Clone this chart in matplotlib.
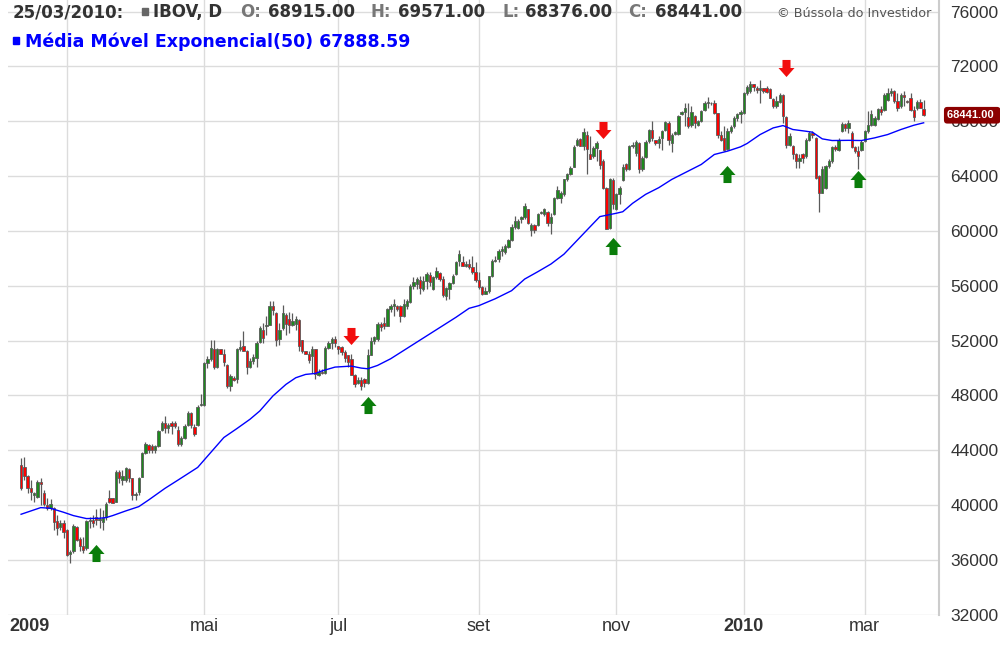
"""IBOV daily candles with 50-period EMA and buy/sell arrows"""

import numpy as np
import matplotlib.pyplot as plt
from matplotlib.path import Path
from matplotlib.patches import Rectangle
from matplotlib.transforms import blended_transform_factory

# daily candles, 13/02/2009 .. 25/03/2010 (one entry per trading day)
opens = [42910, 42789, 42134, 41261, 40700, 40608, 41700, 40900, 40000, 39800,
         39759, 38800, 38400, 38700, 38183, 36400, 36607, 38425, 37500, 37000,
         36849, 38800, 38900, 39152, 38900, 38789, 39100, 40486, 40486, 40243,
         42400, 41819, 41819, 42600, 41940, 40700, 40970, 42061, 43758, 44400,
         44315, 44000, 44300, 45480, 46013, 45600, 46013, 46013, 45500, 44437,
         44922, 45800, 46700, 45700, 45820, 47300, 47274, 50376, 50618, 51400,
         50085, 51346, 51000, 50200, 48679, 49300, 49200, 51400, 51600, 51225,
         50100, 50497, 50740, 51900, 52800, 53042, 53164, 54500, 54012, 52100,
         52900, 53900, 53576, 53164, 53230, 53500, 52024, 51200, 51000, 50861,
         51346, 49500, 49700, 49648, 51467, 51800, 52100, 51600, 51516, 51153,
         50911, 50669, 49456, 48900, 49100, 49214, 48923, 50950, 52002, 52123,
         53200, 53287, 53093, 54304, 54500, 54500, 54498, 53800, 54498, 54789,
         56000, 56122, 56438, 55759, 56365, 56800, 55759, 56607, 56900, 56500,
         55225, 55759, 56200, 56849, 57800, 57746, 57455, 57600, 57400, 57000,
         56400, 55881, 55400, 55600, 56730, 57820, 57941, 58548, 58475, 58790,
         59348, 60300, 60245, 60900, 61000, 61578, 60075, 60400, 60400, 61300,
         61215, 61400, 60600, 61215, 62426, 62426, 62669, 63759, 64123, 64700,
         66305, 66717, 66232, 67000, 65577, 65456, 66063, 65900, 65093, 63154,
         60245, 63700, 61578, 62700, 63700, 64850, 64487, 66184, 65700, 66426,
         64487, 65400, 66547, 67400, 66600, 66400, 66789, 67347, 67900, 66426,
         67100, 67105, 68500, 68650, 68317, 67700, 68400, 67759, 68002, 68800,
         69300, 69350, 69335, 68600, 67032, 66789, 66000, 67300, 67638, 68244,
         68500, 68608, 70062, 70183, 70700, 70400, 70300, 70400, 70426, 70353,
         69600, 69100, 69384, 69941, 68300, 66300, 66232, 65578, 65093, 65578,
         65456, 66668, 67153, 66789, 64002, 62800, 63154, 64729, 65093, 66135,
         65893, 67275, 67832, 67500, 67153, 66135, 65800, 65900, 66547, 67275,
         67759, 67759, 68171, 68900, 68800, 69577, 70062, 70200, 69500, 69093,
         69941, 69500, 69698, 68850, 68971, 69384, 68915]
highs = [43443, 43516, 42183, 41819, 40970, 41819, 41940, 41100, 40485, 40400,
         39880, 39273, 38910, 38910, 38256, 36729, 38595, 38498, 37698, 37698,
         38910, 39152, 39273, 39710, 39759, 39637, 40243, 41092, 40534, 42546,
         42546, 42546, 42789, 42700, 41988, 40970, 42061, 43831, 44607, 44485,
         44485, 44364, 45500, 46134, 46498, 46013, 46134, 46134, 45771, 45043,
         45892, 46861, 46788, 45892, 47274, 48073, 50424, 50861, 52073, 52073,
         51467, 51394, 51346, 50255, 49527, 49406, 51467, 52073, 52679, 51298,
         50740, 50982, 51952, 53042, 53285, 53770, 54860, 54860, 54060, 53300,
         54618, 54012, 54060, 54012, 53770, 53576, 52073, 51225, 51225, 51588,
         51394, 49891, 49891, 51588, 51952, 52244, 52365, 51637, 51637, 51274,
         50959, 51032, 49577, 49335, 49335, 49263, 51396, 52244, 52365, 53335,
         53335, 53698, 54353, 54668, 55031, 54595, 54595, 55031, 55031, 56122,
         56607, 56607, 56728, 56728, 56971, 56971, 56728, 57334, 56971, 56680,
         55880, 56243, 56849, 57819, 58619, 58183, 57819, 57940, 58183, 57698,
         56971, 56003, 55881, 56730, 57941, 58184, 58669, 58911, 59032, 59445,
         60487, 61093, 60851, 61093, 62063, 61627, 60609, 60487, 61336, 61457,
         61699, 61457, 61336, 62499, 63275, 62911, 63808, 64244, 64729, 66305,
         66789, 66789, 67517, 67274, 66911, 66184, 66547, 65941, 65214, 63226,
         63880, 63880, 62790, 63275, 64850, 64971, 66305, 66474, 66668, 66474,
         65456, 66668, 67444, 68002, 66668, 66911, 67396, 68002, 68000, 67153,
         67275, 68486, 68729, 69335, 69335, 69093, 68486, 68123, 68850, 69456,
         69771, 69400, 69577, 68608, 67275, 67638, 67517, 67759, 68365, 68608,
         68850, 70110, 70668, 70910, 70741, 70547, 71032, 70426, 70547, 70426,
         69698, 69819, 70062, 69989, 68365, 67153, 66305, 65699, 65578, 65650,
         66789, 67275, 67275, 66862, 64050, 64729, 64777, 65214, 66232, 66305,
         66789, 67929, 67880, 68123, 67275, 66232, 66184, 66668, 67396, 68729,
         68850, 68365, 68971, 69093, 70062, 70426, 70426, 70305, 70062, 70062,
         70183, 69577, 70062, 69093, 69577, 69626, 69571]
lows = [41092, 41819, 40850, 40365, 40244, 40535, 40001, 39900, 39637, 39600,
        38183, 37820, 38183, 37577, 36244, 35759, 36486, 37335, 36607, 36486,
        36728, 38304, 38425, 38547, 38304, 38183, 38910, 40123, 40123, 40243,
        41577, 41455, 41698, 41698, 40365, 40365, 40728, 42061, 43685, 43758,
        43758, 43758, 44200, 45407, 45286, 45286, 45165, 45650, 44316, 44316,
        44800, 45771, 45650, 45043, 45771, 47225, 47225, 50012, 50497, 49891,
        50012, 50982, 50134, 48558, 48315, 49043, 48921, 51225, 51225, 49528,
        50012, 50255, 50085, 51830, 51830, 52436, 53163, 53891, 51588, 51709,
        52800, 52436, 52558, 53042, 52800, 51225, 51104, 50982, 50376, 49648,
        49164, 49406, 49528, 49528, 51346, 51396, 51517, 51032, 50910, 50426,
        50062, 49456, 48608, 48850, 48365, 48608, 48850, 50911, 51759, 51999,
        52728, 52850, 53044, 54062, 53819, 54183, 53335, 53698, 54304, 54740,
        55759, 55759, 55395, 55638, 55759, 56001, 55710, 56486, 56365, 55152,
        54983, 55031, 56122, 56777, 57455, 57407, 57334, 57213, 56849, 56243,
        55759, 55324, 55396, 55500, 56609, 57699, 57699, 58184, 58306, 58718,
        59275, 60124, 60124, 60609, 60851, 60488, 59639, 59881, 60366, 61215,
        61093, 60366, 59760, 61142, 62305, 62063, 62548, 63638, 64050, 64650,
        66184, 66184, 65941, 64123, 65214, 65335, 65093, 64487, 63032, 60124,
        60172, 61578, 61530, 61941, 63638, 64366, 64438, 66063, 65456, 64244,
        64365, 65335, 66426, 66547, 66305, 66063, 65941, 67275, 66305, 65747,
        67032, 67032, 68486, 67638, 67517, 67600, 67517, 67638, 67929, 68729,
        68971, 69200, 68559, 66789, 66547, 65820, 65900, 67153, 67517, 67999,
        67880, 68559, 69941, 70062, 70183, 70062, 69335, 70062, 70062, 69698,
        68971, 68971, 69335, 67880, 66063, 66184, 65214, 64608, 64608, 64971,
        65335, 66547, 66789, 63808, 61384, 62790, 63081, 64608, 64971, 65820,
        65820, 67202, 67275, 67153, 66063, 65699, 64487, 65820, 66474, 67153,
        67638, 67638, 68123, 68486, 68729, 69456, 69819, 69335, 68729, 68971,
        69093, 69335, 68729, 68002, 68850, 68971, 68376]
closes = [41213, 42134, 41213, 40923, 40850, 41698, 41500, 40050, 39800, 40100,
          38789, 38300, 38700, 38000, 36316, 36600, 38498, 37456, 37000, 36700,
          38837, 38900, 38700, 38910, 39000, 39080, 40100, 40200, 40123, 42425,
          42000, 42122, 42667, 42000, 40728, 40800, 41988, 43758, 44485, 44000,
          44000, 44300, 45400, 46013, 45650, 45800, 45770, 45770, 44450, 44922,
          45771, 46700, 45800, 45200, 47177, 47400, 50376, 50667, 51467, 50100,
          51346, 50982, 50400, 48700, 49406, 49100, 51400, 51500, 51200, 50085,
          50500, 50812, 51830, 52900, 52200, 53164, 54497, 54200, 52073, 52800,
          54000, 53200, 53164, 53406, 53576, 51600, 51225, 51050, 50600, 51346,
          49528, 49700, 49600, 51467, 51800, 52100, 51800, 51400, 51153, 50700,
          50426, 49456, 48850, 49100, 48700, 48923, 50911, 52000, 52244, 53214,
          53000, 53093, 54304, 54547, 54700, 54300, 53771, 54700, 54910, 56001,
          56300, 56486, 55807, 56365, 56849, 56300, 56607, 57092, 56500, 55300,
          55807, 56195, 56700, 57746, 58300, 57455, 57600, 57400, 57000, 56400,
          55900, 55396, 55600, 56700, 57820, 57900, 58548, 58700, 58911, 59348,
          60300, 60700, 60730, 61000, 61800, 60560, 60415, 60100, 61200, 61400,
          61578, 60600, 61000, 62426, 63000, 62790, 63759, 64123, 64608, 66100,
          66668, 66232, 67200, 66000, 65262, 66063, 66400, 64800, 63154, 60172,
          63760, 62000, 62669, 63100, 64700, 64487, 66184, 66300, 66500, 64487,
          65335, 66500, 67396, 66800, 66400, 66700, 67275, 67929, 66600, 67032,
          67200, 68365, 68650, 69000, 67638, 68700, 67900, 68002, 68729, 69300,
          69400, 69300, 68608, 67000, 66668, 65941, 67300, 67600, 68244, 68500,
          68700, 70062, 70500, 70741, 70500, 70300, 70400, 70200, 70110, 69698,
          69100, 69500, 69941, 68365, 66300, 66900, 65578, 65093, 65300, 65335,
          66668, 67153, 67000, 63880, 62790, 64500, 64729, 65093, 66135, 66000,
          66668, 67832, 67500, 67900, 66135, 65820, 65500, 66500, 67275, 67759,
          68500, 68244, 68898, 68700, 69900, 70062, 70200, 69500, 69000, 69941,
          69771, 69400, 68850, 68300, 69384, 68950, 68441]

# exponential moving average (50) at these candles
ema_idx = [0, 6, 9, 13, 16, 20, 24, 26, 28, 32, 36, 39, 44, 48, 54, 58, 62, 66,
           70, 73, 77, 81, 84, 87, 90, 92, 96, 101, 104, 106, 109, 113, 117, 121,
           125, 129, 133, 137, 140, 145, 150, 154, 158, 162, 166, 170, 174, 177,
           179, 182, 184, 187, 191, 195, 199, 204, 208, 212, 216, 220, 222, 226,
           230, 233, 236, 240, 242, 245, 248, 253, 257, 261, 265, 269, 273, 276]
ema_vals = [39322, 39807, 39759, 39468, 39225, 39007, 39031, 39080, 39225, 39565,
            39880, 40364, 41213, 41819, 42740, 43831, 44922, 45576, 46255, 46861,
            47952, 48800, 49285, 49527, 49600, 49780, 50062, 50135, 49990, 49941,
            50183, 50668, 51274, 51880, 52486, 53092, 53698, 54352, 54547, 55050,
            55639, 56487, 57021, 57578, 58300, 59300, 60300, 61045, 61142, 61287,
            61400, 62014, 62669, 63154, 63760, 64365, 64850, 65578, 65820, 66135,
            66377, 67032, 67517, 67687, 67400, 67275, 67202, 66717, 66596, 66610,
            66596, 66789, 67032, 67396, 67711, 67889]

# signal arrows: candle index and price at arrow centre
sell_idx = [101, 178, 234]
sell_price = [52340, 67395, 71868]
buy_idx = [23, 106, 181, 216, 256]
buy_price = [36521, 47286, 58922, 64159, 63795]

month_idx = [14, 56, 97, 140, 182, 221, 258]
tick_pos = [2.5, 56, 97, 140, 182, 221, 258]
tick_labels = ['2009', 'mai', 'jul', 'set', 'nov', '2010', 'mar']

GREEN = '#1d8a1d'
RED = '#ff0000'
OUTLINE = '#5a5a5a'
GRID = '#dcdcdc'
TXT = '#333333'
BLUE = '#0000ff'
ARIAL = 'Liberation Sans'

o = np.array(opens, dtype=float)
h = np.array(highs, dtype=float)
l = np.array(lows, dtype=float)
c = np.array(closes, dtype=float)
idx = np.arange(len(c))
up = c >= o

fig = plt.figure(figsize=(10, 6.5), dpi=100)
ax = fig.add_axes([0.008, 1 - 614.6 / 650, 0.931, 614.6 / 650])
ax.set_xlim(-4, 280.7)
ax.set_ylim(32000, 76851)

# grid
ax.set_yticks(np.arange(32000, 76001, 4000))
ax.grid(axis='y', color=GRID, lw=1, zorder=0)
for m in month_idx:
    ax.axvline(m, color=GRID, lw=1, zorder=0)

# candles
ax.vlines(idx, l, h, color=OUTLINE, lw=0.9, zorder=2)
ax.bar(idx, np.abs(c - o), bottom=np.minimum(o, c), width=0.72,
       color=np.where(up, GREEN, RED), edgecolor=OUTLINE, linewidth=0.6,
       zorder=3)

# moving average
ax.plot(ema_idx, ema_vals, color=BLUE, lw=1, zorder=4)

# arrows
up_arrow = Path([(0, 0.5), (0.47, -0.03), (0.235, -0.03), (0.235, -0.5),
                 (-0.235, -0.5), (-0.235, -0.03), (-0.47, -0.03), (0, 0.5)],
                closed=True)
down_arrow = Path([(x, -y) for x, y in up_arrow.vertices], closed=True)
ax.plot(buy_idx, buy_price, ls='none', marker=up_arrow, ms=12.3,
        color='#0a7d0a', mec='none', zorder=5)
ax.plot(sell_idx, sell_price, ls='none', marker=down_arrow, ms=12.3,
        color='#f20d0d', mec='none', zorder=5)

# axes styling
for side in ['top', 'left', 'bottom']:
    ax.spines[side].set_visible(False)
ax.spines['right'].set_color('#cccccc')
ax.spines['right'].set_linewidth(1.5)
ax.yaxis.tick_right()
ax.tick_params(axis='y', length=0, pad=8.3, labelsize=12.5, labelcolor=TXT)
ax.set_xticks(tick_pos, tick_labels)
ax.tick_params(axis='x', length=0, pad=2.5, labelsize=13, labelcolor=TXT)
for lab in ax.get_yticklabels():
    lab.set_family(ARIAL)
for lab in ax.get_xticklabels():
    lab.set_family(ARIAL)
    if lab.get_text() in ('2009', '2010'):
        lab.set_fontweight('bold')

# last price tag
tr = blended_transform_factory(ax.transAxes, ax.transData)
ax.text(1.0089, closes[-1], '68441.00 ', transform=tr, ha='left', va='center',
        fontsize=8, fontweight='bold', color='white', family=ARIAL,
        bbox=dict(boxstyle='round,pad=0.3,rounding_size=0.3', fc='#8c0000',
                  ec='none'), zorder=10, clip_on=False)


def ftext(x, y, s, **kw):
    fig.text(x / 1000, 1 - y / 650, s, va='baseline', **kw)


# header
hdr = dict(fontsize=12, fontweight='bold')
ftext(12.7, 17.3, '25/03/2010:', color=TXT, **hdr)
fig.patches.append(Rectangle((141.7 / 1000, 1 - 15 / 650), 6.5 / 1000, 6.5 / 650,
                             transform=fig.transFigure, color='#666666'))
ftext(153.3, 17.3, 'IBOV, D', color=TXT, **hdr)
for lx, lab, vx, val in [(240, 'O:', 267.7, '68915.00'),
                         (370, 'H:', 398.3, '69571.00'),
                         (502, 'L:', 525, '68376.00'),
                         (628, 'C:', 655, '68441.00')]:
    ftext(lx, 17.3, lab, color='#777777', **hdr)
    ftext(vx, 17.3, val, color=TXT, **hdr)
fig.patches.append(Rectangle((12.7 / 1000, 1 - 44 / 650), 6.7 / 1000, 6.7 / 650,
                             transform=fig.transFigure, color=BLUE))
ftext(25, 46.7, 'Média Móvel Exponencial(50) 67888.59', color=BLUE,
      fontsize=12.5, fontweight='bold')
ftext(777, 16.7, '© Bússola do Investidor', color='#555555', fontsize=9.2)

plt.savefig('out.png', dpi=100)
